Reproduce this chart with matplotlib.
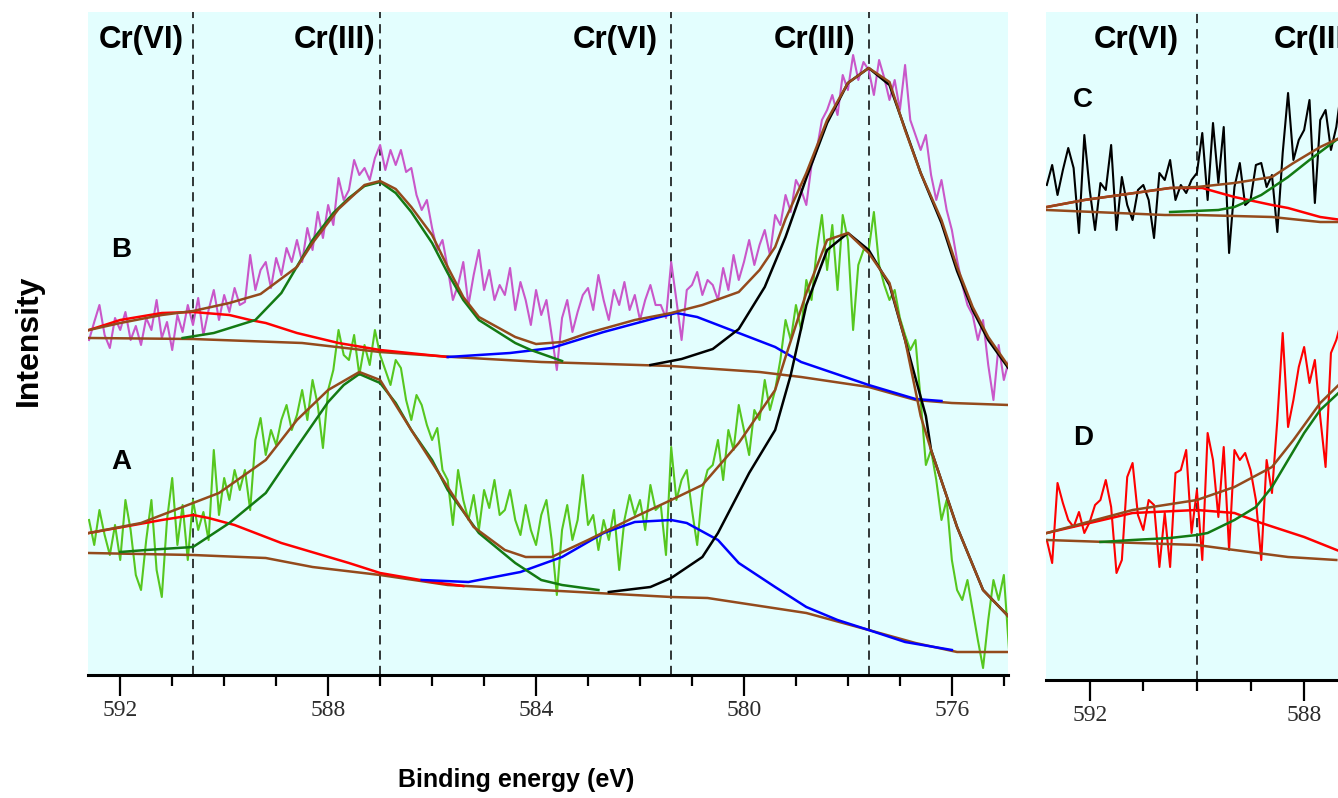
import numpy as np
import matplotlib
matplotlib.use("Agg")
import matplotlib.pyplot as plt
from matplotlib.ticker import MultipleLocator

# ---- measured spectra (binding energy grid, 0.1 eV steps) ----
energy_AB = np.linspace(592.6, 574.9, 178)
energy_CD = np.linspace(592.8, 587.3, 56)

spec_B = [335, 353, 370, 340, 327, 357, 345, 363, 335, 349,
          330, 357, 345, 375, 337, 353, 325, 360, 343, 370,
          350, 377, 340, 365, 385, 355, 380, 363, 387, 370,
          373, 420, 385, 405, 413, 387, 417, 400, 427, 413,
          435, 413, 447, 425, 463, 437, 470, 450, 497, 475,
          485, 515, 500, 507, 495, 517, 530, 505, 525, 510,
          525, 503, 507, 480, 465, 475, 447, 425, 435, 407,
          375, 390, 413, 370, 400, 425, 385, 405, 375, 390,
          380, 407, 365, 393, 375, 350, 385, 360, 375, 340,
          305, 357, 375, 343, 363, 380, 387, 365, 400, 375,
          355, 385, 370, 393, 365, 380, 355, 375, 390, 370,
          370, 357, 413, 375, 335, 385, 390, 403, 380, 395,
          390, 375, 407, 385, 420, 395, 413, 435, 410, 430,
          445, 420, 460, 450, 480, 463, 495, 485, 470, 510,
          525, 555, 565, 580, 560, 600, 585, 620, 595, 613,
          605, 580, 615, 597, 575, 595, 565, 610, 555, 540,
          525, 540, 500, 475, 495, 465, 445, 415, 390, 370,
          360, 335, 355, 310, 275, 330, 295, 315]

spec_A = [155, 130, 165, 140, 120, 150, 115, 175, 145, 100,
          85, 135, 175, 105, 78, 155, 197, 130, 170, 115,
          175, 145, 163, 135, 225, 160, 197, 175, 205, 185,
          205, 165, 235, 257, 220, 245, 230, 255, 270, 245,
          260, 285, 255, 295, 270, 227, 285, 305, 345, 320,
          315, 340, 300, 330, 310, 345, 320, 305, 290, 315,
          307, 275, 255, 280, 270, 250, 235, 247, 205, 195,
          150, 205, 175, 155, 180, 145, 185, 167, 195, 160,
          165, 185, 155, 140, 170, 145, 130, 160, 175, 135,
          80, 145, 170, 135, 155, 200, 150, 160, 125, 155,
          135, 165, 105, 155, 180, 160, 175, 145, 190, 165,
          170, 120, 228, 175, 195, 205, 165, 130, 185, 205,
          210, 235, 195, 245, 225, 270, 245, 220, 265, 255,
          295, 265, 285, 315, 355, 335, 370, 345, 395, 375,
          425, 460, 405, 450, 385, 460, 435, 345, 410, 425,
          425, 463, 410, 390, 375, 385, 357, 340, 325, 335,
          275, 210, 225, 195, 155, 175, 115, 85, 75, 95,
          65, 35, 7, 55, 95, 75, 100, 25]

spec_C = [495, 515, 485, 510, 532, 512, 447, 545, 490, 450,
          497, 490, 535, 450, 503, 475, 460, 490, 495, 480,
          442, 507, 500, 520, 480, 495, 487, 500, 507, 547,
          480, 557, 497, 553, 427, 493, 517, 475, 480, 515,
          517, 493, 505, 448, 527, 587, 520, 540, 550, 580,
          477, 560, 570, 530, 553, 593]

spec_D = [140, 117, 197, 177, 160, 153, 168, 147, 158, 175,
          180, 200, 173, 107, 120, 203, 217, 165, 150, 180,
          175, 113, 167, 113, 207, 210, 230, 147, 190, 120,
          247, 220, 163, 233, 130, 230, 220, 227, 210, 180,
          120, 220, 187, 260, 347, 253, 280, 313, 333, 297,
          320, 263, 213, 327, 340, 360]

# ---- fitted curves: spectrum B ----
bg_B_e = [592.6, 590.6, 588.5, 587.0, 585.6, 583.9, 581.4, 579.7, 578.9, 577.6, 576.7, 576.0, 574.9]
bg_B_i = [337, 336, 332, 323, 318, 313, 309, 303, 298, 288, 275, 272, 270]
red_B_e = [592.6, 592.0, 591.2, 590.6, 589.9, 589.5, 589.2, 588.6, 587.8, 587.0, 585.7]
red_B_i = [345, 355, 362, 363, 360, 355, 352, 342, 332, 325, 318]
grn_B_e = [590.8, 590.2, 589.4, 588.9, 588.3, 587.9, 587.6, 587.3, 587.0, 586.7, 586.4,
           586.0, 585.7, 585.4, 585.1, 584.4, 584.1, 583.5]
grn_B_i = [337, 342, 355, 382, 435, 462, 477, 489, 493, 482, 463, 432, 402, 375, 355, 332, 325, 314]
blu_B_e = [585.7, 584.5, 583.7, 582.7, 582.2, 581.7, 581.3, 580.9, 580.1, 579.4, 578.9, 577.6, 576.7, 576.2]
blu_B_i = [318, 322, 327, 343, 350, 357, 362, 358, 342, 328, 313, 290, 276, 274]
blk_B_e = [581.8, 581.2, 580.6, 580.1, 579.6, 579.2, 578.8, 578.4, 578.0, 577.6, 577.2, 576.9,
           576.6, 576.2, 575.9, 575.6, 575.3, 574.9]
blk_B_i = [310, 316, 326, 346, 388, 438, 497, 552, 592, 607, 590, 546, 502, 452, 404, 365, 335, 306]
env_B_e = [592.6, 592.0, 591.2, 590.6, 589.9, 589.3, 588.6, 588.3, 587.8, 587.3, 587.0, 586.7,
           586.4, 586.0, 585.7, 585.4, 585.1, 584.4, 584.0, 583.5, 583.0, 582.1, 581.4, 580.8,
           580.1, 579.7, 579.4, 579.2, 578.8, 578.4, 578.0, 577.6, 577.2, 576.9, 576.6, 576.2,
           575.9, 575.6, 575.3, 574.9]
env_B_i = [345, 352, 360, 364, 372, 381, 408, 432, 466, 490, 494, 486, 468, 440, 408, 378, 358,
           338, 331, 333, 342, 355, 362, 370, 383, 405, 428, 456, 502, 555, 592, 607, 593, 545,
           502, 455, 408, 368, 338, 308]

# ---- fitted curves: spectrum A ----
bg_A_e = [592.6, 590.6, 589.2, 588.3, 587.0, 585.7, 583.9, 581.4, 580.7, 578.8, 577.6, 576.7, 575.9, 574.9]
bg_A_i = [122, 120, 117, 108, 100, 90, 85, 78, 77, 62, 45, 32, 23, 23]
red_A_e = [592.6, 591.2, 590.6, 590.3, 589.8, 588.9, 587.6, 587.0, 586.0, 585.4]
red_A_i = [142, 155, 160, 157, 150, 132, 112, 102, 93, 89]
grn_A_e = [592.0, 591.5, 590.6, 589.9, 589.2, 588.6, 588.0, 587.7, 587.4, 587.0, 586.7, 586.4,
           586.0, 585.7, 585.1, 584.4, 583.9, 583.5, 582.8]
grn_A_i = [123, 125, 128, 152, 182, 228, 273, 290, 301, 292, 272, 245, 215, 185, 142, 112, 95, 90, 85]
blu_A_e = [586.2, 585.3, 584.3, 583.5, 582.7, 582.1, 581.4, 581.1, 580.5, 580.1, 579.4, 578.8,
           578.2, 577.6, 576.9, 576.0]
blu_A_i = [95, 93, 103, 118, 142, 153, 155, 152, 135, 112, 88, 68, 55, 45, 33, 25]
blk_A_e = [582.6, 581.8, 581.4, 580.8, 580.5, 579.9, 579.4, 579.1, 578.8, 578.4, 578.0, 577.6,
           577.2, 576.9, 576.5, 576.4, 575.9, 575.4, 574.9]
blk_A_i = [83, 88, 97, 118, 142, 202, 245, 300, 370, 425, 442, 425, 390, 335, 259, 225, 148, 85, 58]
env_A_e = [592.6, 591.6, 590.6, 590.1, 589.2, 588.6, 588.0, 587.4, 587.0, 586.4, 585.7, 585.2,
           584.6, 584.2, 583.7, 583.0, 582.1, 581.4, 580.8, 580.1, 579.4, 579.2, 578.8, 578.4,
           578.0, 577.6, 577.2, 576.9, 576.6, 576.4, 575.9, 575.4, 574.9]
env_A_i = [142, 152, 172, 182, 215, 255, 285, 303, 295, 245, 188, 148, 125, 118, 118, 135, 158,
           175, 190, 232, 285, 318, 382, 435, 442, 422, 392, 335, 259, 225, 148, 85, 58]

# ---- fitted curves: spectra C and D ----
bg_C_e = [592.8, 590.6, 590.0, 588.6, 587.7, 587.3]
bg_C_i = [470, 465, 465, 463, 458, 458]
red_C_e = [592.8, 592.1, 590.5, 589.9, 589.3, 588.6, 588.3, 587.7, 587.3]
red_C_i = [473, 480, 492, 492, 483, 475, 472, 463, 460]
grn_C_e = [590.5, 589.6, 589.3, 588.8, 588.3, 587.9, 587.4, 587.3]
grn_C_i = [468, 470, 473, 485, 503, 520, 540, 543]
env_C_e = [592.8, 592.1, 590.5, 590.0, 589.3, 588.6, 588.2, 587.7, 587.3]
env_C_i = [473, 480, 492, 493, 497, 503, 517, 533, 543]

bg_D_e = [592.8, 590.0, 589.3, 588.3, 587.4]
bg_D_i = [140, 135, 130, 123, 120]
red_D_e = [592.8, 591.2, 590.0, 589.3, 588.8, 588.0, 587.3]
red_D_i = [147, 167, 170, 167, 157, 143, 128]
grn_D_e = [591.8, 591.2, 590.5, 590.0, 589.8, 589.3, 588.9, 588.6, 588.3, 588.0, 587.7, 587.3]
grn_D_i = [138, 140, 142, 145, 147, 160, 173, 193, 220, 247, 270, 290]
env_D_e = [592.8, 591.2, 590.0, 589.3, 588.6, 588.2, 587.7, 587.3]
env_D_i = [147, 170, 180, 193, 213, 240, 277, 298]

# ---- annotations ----
guide_AB = [590.6, 587.0, 581.4, 577.6]
guide_CD = [590.0]
state_AB = [("Cr(VI)", 591.6), ("Cr(III)", 587.87), ("Cr(VI)", 582.48), ("Cr(III)", 578.65)]
state_CD = [("Cr(VI)", 591.13), ("Cr(III)", 587.81)]

BG = "#e3fefe"
BROWN = "#944a1c"
DKGREEN = "#137a13"
MAGENTA = "#c957c9"
LIME = "#56c71f"

fig = plt.figure(figsize=(13.38, 7.98), dpi=100)
ax1 = fig.add_axes([88 / 1338, 123 / 798, 920 / 1338, 663 / 798])
ax2 = fig.add_axes([1046 / 1338, 118 / 798, 360 / 1338, 668 / 798])


def style_axis(ax, xlim, ylim):
    ax.set_facecolor(BG)
    ax.set_xlim(*xlim)
    ax.set_ylim(*ylim)
    for s in ["top", "right", "left"]:
        ax.spines[s].set_visible(False)
    ax.spines["bottom"].set_linewidth(2.2)
    ax.set_yticks([])
    ax.xaxis.set_major_locator(MultipleLocator(4))
    ax.xaxis.set_minor_locator(MultipleLocator(1))
    ax.tick_params(axis="x", which="major", direction="out", length=15, width=1.6, pad=3,
                   labelsize=17, labelcolor="#2c2c2c")
    ax.tick_params(axis="x", which="minor", direction="out", length=8, width=1.6)
    for lab in ax.get_xticklabels():
        lab.set_family("Liberation Serif")


style_axis(ax1, (592.62, 574.92), (0, 663))
style_axis(ax2, (592.815, 586.1), (0, 668))

# left panel: spectra A and B
for g in guide_AB:
    ax1.axvline(g, color="black", lw=1.1, ls=(0, (6, 4)), zorder=1)
ax1.plot(energy_AB, spec_B, color=MAGENTA, lw=1.5, zorder=2)
ax1.plot(energy_AB, spec_A, color=LIME, lw=1.5, zorder=2)
for e, i, c in [(bg_B_e, bg_B_i, BROWN), (red_B_e, red_B_i, "red"), (blu_B_e, blu_B_i, "blue"),
                (grn_B_e, grn_B_i, DKGREEN), (blk_B_e, blk_B_i, "black"), (env_B_e, env_B_i, BROWN),
                (bg_A_e, bg_A_i, BROWN), (red_A_e, red_A_i, "red"), (blu_A_e, blu_A_i, "blue"),
                (grn_A_e, grn_A_i, DKGREEN), (blk_A_e, blk_A_i, "black"), (env_A_e, env_A_i, BROWN)]:
    ax1.plot(e, i, color=c, lw=1.8, zorder=3)

# right panel: spectra C and D
for g in guide_CD:
    ax2.axvline(g, color="black", lw=1.1, ls=(0, (6, 4)), zorder=1)
ax2.plot(energy_CD, spec_C, color="black", lw=1.5, zorder=2)
ax2.plot(energy_CD, spec_D, color="red", lw=1.5, zorder=2)
for e, i, c in [(bg_C_e, bg_C_i, BROWN), (red_C_e, red_C_i, "red"), (grn_C_e, grn_C_i, DKGREEN),
                (env_C_e, env_C_i, BROWN), (bg_D_e, bg_D_i, BROWN), (red_D_e, red_D_i, "red"),
                (grn_D_e, grn_D_i, DKGREEN), (env_D_e, env_D_i, BROWN)]:
    ax2.plot(e, i, color=c, lw=1.8, zorder=3)

bold = dict(family="Liberation Sans", weight="bold", color="black")
for ax, labels in [(ax1, state_AB), (ax2, state_CD)]:
    for txt, pos in labels:
        ax.text(pos, 0.958, txt, transform=ax.get_xaxis_transform(), ha="center", va="center",
                fontsize=22.5, **bold)
ax1.text(591.98, 0.641, "B", transform=ax1.get_xaxis_transform(), ha="center", va="center",
         fontsize=20, **bold)
ax1.text(591.98, 0.321, "A", transform=ax1.get_xaxis_transform(), ha="center", va="center",
         fontsize=20, **bold)
ax2.text(592.13, 0.868, "C", transform=ax2.get_xaxis_transform(), ha="center", va="center",
         fontsize=20, **bold)
ax2.text(592.13, 0.362, "D", transform=ax2.get_xaxis_transform(), ha="center", va="center",
         fontsize=20, **bold)

fig.text(29 / 1338, 1 - 340 / 798, "Intensity", rotation=90, ha="center", va="center",
         fontsize=23, **bold)
fig.text(516 / 1338, 1 - 780 / 798, "Binding energy (eV)", ha="center", va="center",
         fontsize=18, **bold)

fig.savefig("out.png", dpi=100)
